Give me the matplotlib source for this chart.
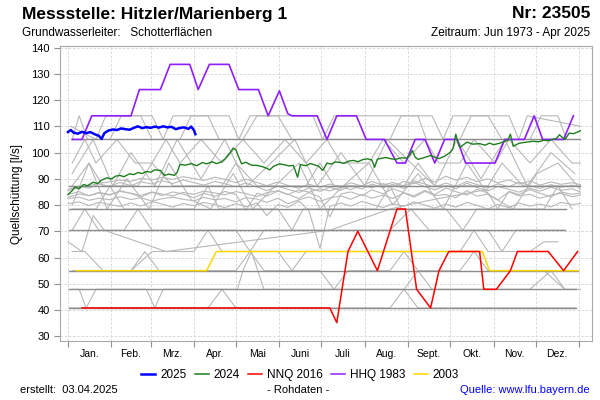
import numpy as np
import matplotlib.pyplot as plt
from matplotlib.lines import Line2D

plt.rcParams['font.family'] = ['Liberation Sans', 'DejaVu Sans']

# day of year (0 = 1. Jan) for month boundaries and labels
month_starts = [0, 31, 59, 90, 120, 151, 181, 212, 243, 273, 304, 334, 365]
month_labels = ["Jan.", "Feb.", "Mrz.", "Apr.", "Mai", "Juni", "Juli", "Aug.", "Sept.", "Okt.", "Nov.", "Dez."]

# 2025
days_2025 = [0, 2, 4, 7, 10, 13, 16, 19, 22, 24, 26, 29, 32, 35, 38, 41, 44, 47, 50, 53,
             56, 59, 62, 65, 68, 71, 74, 77, 80, 83, 86, 88, 90, 91]
vals_2025 = [107.8, 108.6, 107.6, 107.2, 107.9, 107.4, 107.8, 107.0, 106.4, 105.2, 107.4, 108.4, 108.8,
             108.6, 109.2, 108.9, 108.7, 109.4, 110.0, 109.3, 109.7, 109.4, 109.9, 109.5, 110.0, 109.6,
             109.8, 108.9, 109.4, 109.6, 109.0, 109.9, 108.5, 107.0]

# 2024
days_2024 = [0, 3, 5, 8, 11, 14, 18, 21, 24, 28, 31, 34, 37, 40, 44, 47, 50, 53, 56, 59,
             62, 66, 69, 72, 76, 78, 80, 84, 88, 92, 96, 99, 103, 106, 109, 112, 116, 118, 120, 121,
             124, 127, 131, 135, 139, 142, 144, 147, 151, 155, 158, 161, 164, 166, 170, 173, 175, 179, 182, 185,
             188, 191, 194, 197, 201, 204, 207, 211, 214, 217, 219, 221, 223, 227, 231, 234, 238, 242, 244, 246,
             248, 250, 254, 259, 262, 265, 269, 273, 275, 277, 279, 280, 283, 285, 289, 294, 298, 301, 304, 308,
             311, 314, 316, 318, 322, 325, 328, 332, 336, 340, 343, 346, 349, 351, 353, 355, 358, 361, 364, 366]
vals_2024 = [84.0, 85.5, 86.8, 86.2, 87.8, 87.4, 88.7, 88.2, 89.5, 90.4, 89.9, 91.0, 91.3, 90.8, 91.9, 91.6, 92.4, 92.0, 92.8, 92.5,
             93.4, 93.2, 91.3, 91.8, 91.3, 92.5, 95.5, 95.2, 95.8, 95.0, 96.2, 95.7, 96.5, 95.8, 96.3, 97.5, 100.1, 101.7, 101.0, 99.5,
             95.7, 96.3, 95.2, 95.1, 94.6, 94.0, 93.4, 94.8, 95.7, 95.3, 94.9, 95.1, 90.6, 95.4, 95.0, 95.8, 95.5, 94.8, 93.2, 96.0,
             95.6, 96.4, 96.3, 95.9, 96.8, 97.0, 96.5, 97.4, 97.6, 97.2, 94.4, 97.5, 97.7, 98.1, 97.6, 97.4, 98.0, 97.9, 99.0, 100.8,
             98.2, 97.4, 98.0, 98.9, 98.2, 97.7, 98.6, 100.1, 101.5, 107.0, 103.0, 102.0, 103.2, 104.0, 103.2, 103.4, 102.8, 103.6, 103.0, 103.5,
             104.1, 104.6, 107.0, 102.4, 103.5, 103.8, 104.0, 104.3, 104.1, 104.7, 104.5, 105.0, 105.4, 106.8, 105.8, 105.0, 107.4, 107.2, 107.8, 108.3]

# NNQ 2016
days_nnq = [10, 187, 192, 200, 207, 221, 235, 241, 249, 259, 265, 272, 294, 297, 306, 316, 321, 343, 354, 364]
vals_nnq = [40.8, 40.8, 35.2, 62.3, 70.0, 55.0, 78.5, 78.5, 47.9, 40.8, 55.0, 62.3, 62.3, 47.9, 47.9, 55.0, 62.3, 62.3, 55.0, 62.3]

# HHQ 1983
days_hhq = [3, 10, 17, 45, 51, 66, 73, 87, 93, 101, 115, 122, 136, 143, 151, 157, 160, 178, 185, 192,
            206, 213, 226, 235, 241, 248, 255, 262, 269, 278, 284, 305, 312, 326, 333, 339, 354, 361]
vals_hhq = [105, 105, 114, 114, 124, 124, 133.6, 133.6, 124, 133.6, 133.6, 124, 124, 114, 123.5, 114.8, 114, 114, 105, 114,
            114, 105, 105, 96, 96, 105, 105, 96, 105, 105, 96, 96, 105, 105, 114, 105, 105, 114]

# 2003
days_2003 = [6, 99, 106, 296, 301, 364]
vals_2003 = [55, 55, 62.3, 62.3, 55, 55]

# other years (grey), daily measured years, common day grid
grid_days = [0, 8, 15, 22, 30, 37, 45, 52, 60, 67, 75, 82, 90, 97, 105, 112, 120, 127, 135, 142,
             150, 157, 165, 172, 180, 187, 195, 202, 210, 217, 225, 232, 240, 247, 255, 262, 270, 277, 285, 292,
             300, 307, 315, 322, 330, 337, 345, 352, 360, 366]
grey_n1 = [82.5, 83.0, 81.8, 82.6, 82.0, 83.2, 82.1, 82.8, 81.5, 82.4, 83.0, 82.2, 81.6, 82.9, 82.0, 82.5, 81.2, 82.8, 82.3, 81.0,
           82.6, 80.5, 82.0, 83.1, 81.4, 82.7, 83.5, 82.2, 84.0, 82.6, 83.8, 82.5, 84.6, 83.0, 85.2, 83.6, 84.0, 82.8, 85.5, 83.4,
           84.2, 82.0, 85.0, 83.5, 84.1, 82.6, 83.8, 84.5, 83.2, 83.8]
grey_n2 = [86.0, 87.2, 86.5, 88.0, 87.1, 88.6, 87.4, 88.9, 88.0, 89.3, 88.2, 89.6, 88.5, 87.6, 89.0, 88.1, 87.0, 88.4, 86.9, 85.5,
           87.2, 86.0, 84.8, 86.5, 85.2, 86.8, 85.6, 87.5, 86.1, 88.0, 86.6, 87.9, 86.3, 88.6, 87.0, 85.8, 87.4, 86.2, 88.3, 86.7,
           85.4, 87.1, 86.0, 84.9, 86.4, 85.3, 86.8, 85.6, 86.2, 85.0]
grey_n3 = [84.0, 85.1, 83.5, 84.6, 83.8, 85.5, 84.4, 83.0, 84.9, 83.6, 85.0, 84.2, 82.8, 84.5, 83.3, 85.2, 84.0, 78.0, 84.5, 83.4,
           85.3, 84.1, 82.5, 84.8, 83.0, 75.5, 84.2, 85.0, 83.6, 85.8, 84.3, 86.2, 84.7, 83.5, 85.6, 84.0, 86.5, 85.1, 83.8, 86.0,
           84.6, 78.5, 85.2, 84.0, 85.9, 84.5, 83.2, 85.0, 84.1, 84.6]
grey_n4 = [80.5, 81.2, 79.8, 81.0, 80.2, 79.5, 80.8, 79.6, 81.3, 80.4, 79.2, 80.6, 79.8, 81.0, 80.1, 79.0, 80.5, 79.4, 80.8, 76.0,
           80.2, 79.1, 81.5, 78.0, 63.5, 79.5, 80.8, 79.6, 81.4, 80.3, 79.0, 80.6, 79.5, 81.2, 80.0, 78.8, 80.4, 79.2, 81.0, 79.9,
           78.5, 80.2, 79.0, 80.8, 79.6, 80.4, 79.3, 81.0, 80.2, 80.6]
grey_n5 = [85.5, 86.8, 87.4, 88.2, 88.9, 89.5, 89.0, 90.2, 89.6, 90.5, 89.8, 90.8, 90.1, 89.4, 90.6, 89.8, 88.5, 89.9, 88.6, 87.4,
           88.8, 87.5, 86.4, 87.9, 86.8, 88.0, 86.9, 88.5, 87.2, 89.0, 87.6, 88.6, 87.3, 89.2, 88.0, 86.9, 88.4, 87.1, 89.0, 87.8,
           86.5, 88.1, 87.0, 88.7, 87.4, 86.3, 87.8, 86.8, 87.6, 86.9]
grey_n6 = [83.0, 84.2, 83.6, 84.8, 84.0, 85.2, 84.5, 83.7, 85.0, 84.2, 83.5, 84.8, 84.1, 85.3, 84.6, 83.9, 85.1, 84.4, 83.2, 84.7,
           85.5, 84.0, 85.8, 84.9, 86.2, 85.4, 86.8, 85.9, 87.5, 86.6, 88.2, 87.0, 89.0, 88.1, 90.2, 88.8, 91.0, 89.5, 90.6, 88.9,
           90.0, 88.5, 89.6, 88.0, 89.2, 87.6, 88.8, 87.9, 88.5, 87.8]

# other years (grey), weekly stepped readings
s1_d = [3, 8, 14, 30, 38, 52, 60, 80, 88, 100, 108, 125, 135, 150, 160, 230, 238, 250, 256, 280, 288, 300, 310, 330, 338, 350, 356, 366]
s1_v = [105, 114, 105, 105, 114, 114, 105, 105, 114, 114, 105, 105, 114, 114, 105, 105, 114, 114, 105, 105, 114, 114, 105, 105, 114, 114, 105, 105]
s2_d = [3, 12, 20, 35, 48, 60, 70, 80, 95, 110, 125, 140, 155, 170, 185, 195, 215, 225, 240, 255, 265, 280, 290, 305, 315, 330, 345, 360, 366]
s2_v = [96, 105, 96, 105, 96, 96, 105, 96, 105, 96, 105, 96, 105, 96, 105, 96, 96, 105, 96, 105, 96, 96, 105, 96, 105, 96, 105, 96, 96]
s3_d = [3, 15, 25, 50, 60, 75, 110, 120, 135, 170, 180, 190, 240, 250, 262, 300, 310, 325, 366]
s3_v = [87.3, 96, 87.3, 87.3, 96, 87.3, 87.3, 96, 87.3, 87.3, 96, 87.3, 87.3, 96, 87.3, 87.3, 96, 87.3, 87.3]
s4_d = [3, 20, 30, 40, 90, 100, 108, 150, 160, 168, 220, 230, 238, 270, 282, 292, 340, 350, 360]
s4_v = [78.5, 78.5, 87.3, 78.5, 78.5, 87.3, 78.5, 78.5, 70.4, 78.5, 78.5, 87.3, 78.5, 78.5, 70.4, 78.5, 78.5, 87.3, 78.5]
s5_d = [3, 12, 22, 40, 50, 60, 120, 130, 140, 230, 245, 258, 300, 310, 320, 355]
s5_v = [70.4, 78.5, 70.4, 70.4, 78.5, 70.4, 70.4, 62.3, 70.4, 70.4, 78.5, 70.4, 70.4, 62.3, 70.4, 70.4]
s6_d = [3, 12, 25, 45, 60, 90, 100, 110, 150, 160, 170, 280, 290, 300, 330, 340, 350]
s6_v = [62.3, 62.3, 55, 55, 62.3, 62.3, 70.4, 62.3, 62.3, 55, 62.3, 62.3, 70.4, 62.3, 62.3, 66, 66]
s7_d = [3, 45, 55, 65, 120, 130, 140, 180, 190, 200, 230, 240, 250, 280, 290, 300, 340, 355, 366]
s7_v = [55, 55, 62.3, 55, 55, 62.3, 55, 55, 47.9, 55, 55, 62.3, 55, 55, 62.3, 55, 55, 47.9, 47.9]
s8_d = [3, 8, 13, 20, 56, 62, 68, 121, 125, 131, 140, 150, 160, 240, 250, 260, 330, 345, 355]
s8_v = [47.9, 47.9, 40.8, 47.9, 47.9, 40.8, 47.9, 47.9, 55, 62.3, 47.9, 47.9, 47.9, 47.9, 55, 47.9, 47.9, 55, 47.9]
s9_d = [1, 100, 110, 120, 230, 240, 250, 363]
s9_v = [40.8, 40.8, 47.9, 40.8, 40.8, 47.9, 40.8, 40.8]
s10_d = [0, 10, 18, 26, 70, 187, 230, 260, 300]
s10_v = [66, 62.3, 76, 70.4, 62.3, 70.4, 78.5, 82, 86]
s11_d = [3, 18, 32, 45, 62, 78, 95, 112, 128, 145, 162, 178, 195, 212, 228, 245, 262, 278, 295, 312, 328, 345, 362]
s11_v = [92, 105, 87.3, 100, 87.3, 105, 90, 105, 87.3, 96, 105, 87.3, 100, 87.3, 105, 96, 87.3, 105, 90, 105, 87.3, 100, 92]
s12_d = [3, 15, 28, 42, 58, 72, 88, 102, 118, 132, 148, 165, 180, 198, 215, 232, 250, 268, 285, 300, 318, 335, 350, 366]
s12_v = [80, 96, 78.5, 90, 78.5, 96, 82, 78.5, 92, 78.5, 87.3, 96, 78.5, 88, 96, 80, 92, 78.5, 96, 84, 78.5, 92, 96, 86]
s13_d = [2, 20, 27, 60, 68, 75, 115, 122, 130, 175, 182, 190, 260, 268, 275, 315, 322, 328, 366]
s13_v = [110, 105, 114, 114, 105, 114, 114, 105, 114, 114, 105, 114, 114, 105, 114, 114, 105, 114, 110]

# flat years (constant over the year)
flat_levels = [105, 87.3, 78.5, 70.4, 55, 47.9, 40.8]
flat_start = [3, 1, 1, 1, 1, 1, 1]
flat_end = [366, 366, 356, 355, 364, 363, 363]

fig = plt.figure(figsize=(6, 4), dpi=100)
ax = fig.add_axes([0.1, 0.1475, 0.8867, 0.7375])

grey = '#b8b8b8'
for vals in [grey_n1, grey_n2, grey_n3, grey_n4, grey_n5, grey_n6]:
    ax.plot(grid_days, vals, color=grey, lw=0.8, zorder=2)
steps = [(s1_d, s1_v), (s2_d, s2_v), (s3_d, s3_v), (s4_d, s4_v), (s5_d, s5_v), (s6_d, s6_v), (s7_d, s7_v),
         (s8_d, s8_v), (s9_d, s9_v), (s10_d, s10_v), (s11_d, s11_v), (s12_d, s12_v), (s13_d, s13_v)]
for d, v in steps:
    ax.plot(d, v, color=grey, lw=0.8, zorder=2)
for lvl, a, b in zip(flat_levels, flat_start, flat_end):
    ax.plot([a, b], [lvl, lvl], color='#8c8c8c', lw=1.0, zorder=2)

ax.plot(days_2003, vals_2003, color='#ffd700', lw=1.1, zorder=3)
ax.plot(days_hhq, vals_hhq, color='#8f1eff', lw=1.2, zorder=4)
ax.plot(days_nnq, vals_nnq, color='#ff0000', lw=1.1, zorder=4)
ax.plot(days_2024, vals_2024, color='#1e7d1e', lw=1.0, zorder=5)
ax.plot(days_2025, vals_2025, color='#0000ff', lw=1.8, zorder=6)

ax.set_xlim(-5.7, 374.3)
ax.set_ylim(28.2, 140.6)
ax.set_yticks(np.arange(30, 141, 10))
ax.set_xticks(month_starts)
ax.set_xticklabels([])
mids = [(month_starts[i] + month_starts[i + 1]) / 2 for i in range(12)]
ax.set_xticks(mids, minor=True)
ax.set_xticklabels(month_labels, minor=True)
ax.tick_params(axis='x', which='major', length=4, color='#909090')
ax.tick_params(axis='x', which='minor', length=0, pad=6, labelsize=7.5)
ax.tick_params(axis='y', length=4, color='#909090', labelsize=8)
ax.grid(True, which='major', color='#d4d4d4', ls=(0, (3, 2)), lw=0.6)
ax.set_axisbelow(True)
for sp in ax.spines.values():
    sp.set_color('#a8a8a8')
ax.set_ylabel('Quellschüttung [l/s]', fontsize=8.5, labelpad=6)

fig.text(22 / 600, 1 - 14 / 400, 'Messstelle: Hitzler/Marienberg 1', fontsize=12.5, weight='bold', va='center')
fig.text(590 / 600, 1 - 14 / 400, 'Nr: 23505', fontsize=12.5, weight='bold', va='center', ha='right')
fig.text(22 / 600, 1 - 33 / 400, 'Grundwasserleiter:   Schotterflächen', fontsize=8.5, va='center')
fig.text(590 / 600, 1 - 33 / 400, 'Zeitraum: Jun 1973 - Apr 2025', fontsize=8.5, va='center', ha='right')
fig.text(20 / 600, 1 - 390 / 400, 'erstellt:  03.04.2025', fontsize=8, va='center')
fig.text(298 / 600, 1 - 390 / 400, '- Rohdaten -', fontsize=8, va='center', ha='center')
fig.text(590 / 600, 1 - 390 / 400, 'Quelle: www.lfu.bayern.de', fontsize=8, va='center', ha='right', color='#0000ff')

handles = [Line2D([], [], color='#0000ff', lw=1.8), Line2D([], [], color='#1e7d1e', lw=1.1),
           Line2D([], [], color='#ff0000', lw=1.1), Line2D([], [], color='#8f1eff', lw=1.1),
           Line2D([], [], color='#ffd700', lw=1.1)]
fig.legend(handles, ['2025', '2024', 'NNQ 2016', 'HHQ 1983', '2003'], loc='center', bbox_to_anchor=(0.5, 1 - 375 / 400),
           ncol=5, frameon=False, fontsize=8.5, handlelength=1.2, handletextpad=0.4, columnspacing=0.7)

fig.savefig('out.png', dpi=100)
